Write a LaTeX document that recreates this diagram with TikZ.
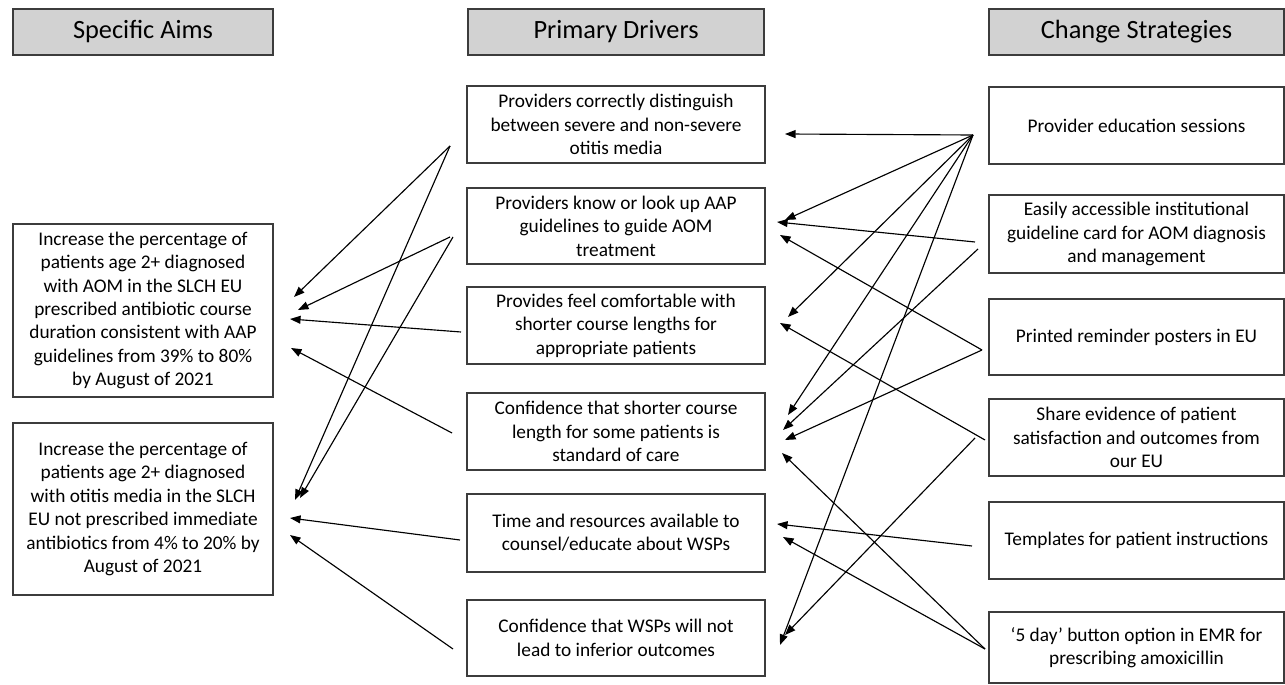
\documentclass[tikz,border=0pt]{standalone}
\usepackage{fontspec}
\setmainfont{Carlito}
\usetikzlibrary{arrows.meta}
\definecolor{hdrfill}{HTML}{D2D2D2}
\definecolor{boxline}{HTML}{3C3C3C}
\tikzset{
  hdr/.style={draw=boxline, fill=hdrfill, line width=0.9pt, inner sep=0pt,
    font=\fontsize{15}{18}\selectfont, text=black},
  box/.style={draw=boxline, line width=0.75pt, inner sep=0pt, align=center,
    font=\fontsize{11}{13.3}\selectfont, text=black},
  arr/.style={-{Triangle[length=6pt,width=4.5pt]}, line width=0.65pt, black}
}
\begin{document}
\begin{tikzpicture}[x=0.02cm,y=-0.02cm]
\useasboundingbox (0,0) rectangle (1285,685);
% headers
\node[hdr, minimum width=5.2cm, minimum height=0.92cm] (hA) at (143,32) {Specific Aims};
\node[hdr, minimum width=5.92cm, minimum height=0.92cm] (hD) at (616,32) {Primary Drivers};
\node[hdr, minimum width=5.9cm, minimum height=0.92cm] (hS) at (1136.5,32) {Change Strategies};
% aims
\node[box, minimum width=5.2cm, minimum height=3.46cm] (A1) at (143,310.5)
 {Increase the percentage of\\patients age 2+ diagnosed\\with AOM in the SLCH EU\\prescribed antibiotic course\\duration consistent with AAP\\guidelines from 39\% to 80\%\\by August of 2021};
\node[box, minimum width=5.2cm, minimum height=3.44cm] (A2) at (143,509)
 {Increase the percentage of\\patients age 2+ diagnosed\\with otitis media in the SLCH\\EU not prescribed immediate\\antibiotics from 4\% to 20\% by\\August of 2021};
% drivers
\node[box, minimum width=5.96cm, minimum height=1.54cm] (D1) at (616,124.5)
 {Providers correctly distinguish\\between severe and non-severe\\otitis media};
\node[box, minimum width=5.96cm, minimum height=1.52cm] (D2) at (616,226)
 {Providers know or look up AAP\\guidelines to guide AOM\\treatment};
\node[box, minimum width=5.96cm, minimum height=1.54cm] (D3) at (616,325.5)
 {Provides feel comfortable with\\shorter course lengths for\\appropriate patients};
\node[box, minimum width=5.96cm, minimum height=1.54cm] (D4) at (616,431.5)
 {Confidence that shorter course\\length for some patients is\\standard of care};
\node[box, minimum width=5.96cm, minimum height=1.56cm] (D5) at (616,533)
 {Time and resources available to\\counsel/educate about WSPs};
\node[box, minimum width=5.96cm, minimum height=1.52cm] (D6) at (616,638)
 {Confidence that WSPs will not\\lead to inferior outcomes};
% strategies
\node[box, minimum width=5.9cm, minimum height=1.54cm] (S1) at (1136.5,125.5)
 {Provider education sessions};
\node[box, minimum width=5.9cm, minimum height=1.56cm] (S2) at (1136.5,234)
 {Easily accessible institutional\\guideline card for AOM diagnosis\\and management};
\node[box, minimum width=5.9cm, minimum height=1.52cm] (S3) at (1136.5,337)
 {Printed reminder posters in EU};
\node[box, minimum width=5.9cm, minimum height=1.54cm] (S4) at (1136.5,437.5)
 {Share evidence of patient\\satisfaction and outcomes from\\our EU};
\node[box, minimum width=5.9cm, minimum height=1.54cm] (S5) at (1136.5,540.5)
 {Templates for patient instructions};
\node[box, minimum width=5.9cm, minimum height=1.42cm] (S6) at (1136.5,647.5)
 {‘5 day’ button option in EMR for\\prescribing amoxicillin};
% connector end points, left section
\coordinate (d1s) at (450,146);
\coordinate (d2sa) at (450,237);
\coordinate (d2sb) at (453,237);
\coordinate (d3s) at (461,332);
\coordinate (d4s) at (452,433);
\coordinate (d5s) at (460,540);
\coordinate (d6s) at (453,649);
\coordinate (a1a) at (294,297);
\coordinate (a1b) at (298,310);
\coordinate (a1c) at (290,319);
\coordinate (a1d) at (291,348);
\coordinate (a2a) at (295,500);
\coordinate (a2b) at (300,498);
\coordinate (a2c) at (290,518);
\coordinate (a2d) at (290,535);
% connector end points, right section
\coordinate (s1s) at (973,135);
\coordinate (s2sa) at (975,242);
\coordinate (s2sb) at (978,249);
\coordinate (s3s) at (982,350);
\coordinate (s4sa) at (975,438);
\coordinate (s4sb) at (985,440);
\coordinate (s5s) at (972,546);
\coordinate (s6s) at (985,649);
\coordinate (t1a) at (785,134);
\coordinate (t2a) at (785,220);
\coordinate (t2b) at (777,222);
\coordinate (t2c) at (780,235);
\coordinate (t3a) at (788,317);
\coordinate (t3b) at (780,323);
\coordinate (t4a) at (788,415);
\coordinate (t4b) at (783,430);
\coordinate (t4c) at (785,440);
\coordinate (t4d) at (782,453);
\coordinate (t5a) at (777,524);
\coordinate (t5b) at (783,537);
\coordinate (t6a) at (785,635);
\coordinate (t6b) at (780,645);
% drivers -> aims
\draw[arr] (d1s) -- (a1a);
\draw[arr] (d1s) -- (a2a);
\draw[arr] (d2sa) -- (a1b);
\draw[arr] (d2sb) -- (a2b);
\draw[arr] (d3s) -- (a1c);
\draw[arr] (d4s) -- (a1d);
\draw[arr] (d5s) -- (a2c);
\draw[arr] (d6s) -- (a2d);
% strategies -> drivers
\draw[arr] (s1s) -- (t1a);
\draw[arr] (s1s) -- (t2a);
\draw[arr] (s1s) -- (t3a);
\draw[arr] (s1s) -- (t4a);
\draw[arr] (s1s) -- (t6b);
\draw[arr] (s2sa) -- (t2b);
\draw[arr] (s2sb) -- (t4b);
\draw[arr] (s3s) -- (t2c);
\draw[arr] (s3s) -- (t4c);
\draw[arr] (s4sb) -- (t3b);
\draw[arr] (s4sa) -- (t6a);
\draw[arr] (s5s) -- (t5a);
\draw[arr] (s6s) -- (t5b);
\draw[arr] (s6s) -- (t4d);
\end{tikzpicture}
\end{document}
